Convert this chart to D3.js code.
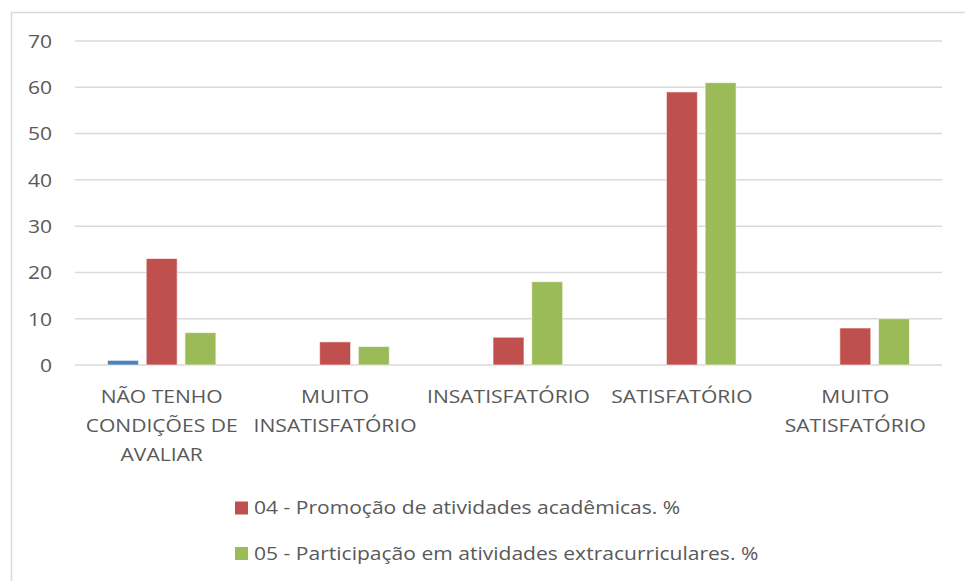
<!DOCTYPE html>
<html>
<head>
<meta charset="utf-8">
<script src="https://cdn.jsdelivr.net/npm/d3@7"></script>
<style>
  html, body { margin: 0; padding: 0; background: #fff; }
  svg { display: block; }
  text { font-family: "Open Sans", sans-serif; fill: #595959; }
</style>
</head>
<body>
<svg id="chart" width="965" height="581"></svg>
<script>
const categories = [
  "NÃO TENHO\nCONDIÇÕES DE\nAVALIAR",
  "MUITO\nINSATISFATÓRIO",
  "INSATISFATÓRIO",
  "SATISFATÓRIO",
  "MUITO\nSATISFATÓRIO"
];
const seriesNames = [
  "",
  "04 - Promoção de atividades acadêmicas. %",
  "05 - Participação em atividades extracurriculares. %"
];
const seriesBlue = [1, 0, 0, 0, 0];
const seriesRed = [23, 5, 6, 59, 8];
const seriesGreen = [7, 4, 18, 61, 10];
const seriesColors = ["#4F81BD", "#C0504D", "#9BBB59"];
const yTicks = [0, 10, 20, 30, 40, 50, 60, 70];
const legendShown = [1, 2];

const allSeries = [seriesBlue, seriesRed, seriesGreen];
const svg = d3.select("#chart");
const SX = 1.17; // horizontal text stretch

svg.append("rect")
  .attr("x", 11.5).attr("y", 12.5)
  .attr("width", 970).attr("height", 590)
  .attr("fill", "none").attr("stroke", "#D9D9D9").attr("stroke-width", 1.5);

const plot = { left: 75, right: 942, top: 41, bottom: 365 };

const y = d3.scaleLinear().domain([0, 70]).range([plot.bottom, plot.top]);
const x0 = d3.scaleBand().domain(d3.range(categories.length))
  .range([plot.left, plot.right]).paddingInner(0).paddingOuter(0);

const bw = x0.bandwidth() / 5.6;
const step = bw * 1.25;

svg.append("g").selectAll("line").data(yTicks).join("line")
  .attr("x1", plot.left).attr("x2", plot.right)
  .attr("y1", d => y(d)).attr("y2", d => y(d))
  .attr("stroke", "#D9D9D9").attr("stroke-width", 1.5);

const yAxis = d3.axisLeft(y).tickValues(yTicks).tickSize(0).tickPadding(0);
const gy = svg.append("g").attr("transform", `translate(${plot.left - 23},0)`).call(yAxis);
gy.select(".domain").remove();
gy.selectAll(".tick text")
  .style("font-size", "18px").style("font-family", "'Open Sans', sans-serif")
  .attr("fill", "#595959").attr("dy", "0.35em")
  .attr("transform", `scale(${SX},1)`);

allSeries.forEach((vals, si) => {
  svg.append("g").selectAll("rect").data(vals).join("rect")
    .attr("x", (d, i) => x0(i) + x0.bandwidth() / 2 - (3 * bw + 2 * (step - bw)) / 2 + si * step)
    .attr("width", bw)
    .attr("y", d => y(d))
    .attr("height", d => y(0) - y(d))
    .attr("fill", seriesColors[si])
    .attr("stroke", d => d > 0 ? "#fff" : "none")
    .attr("stroke-opacity", 0.6)
    .attr("stroke-width", 1);
});

const gx = svg.append("g");
categories.forEach((c, i) => {
  const t = gx.append("text")
    .attr("transform", `translate(${x0(i) + x0.bandwidth() / 2},403) scale(${SX},1)`)
    .attr("text-anchor", "middle")
    .style("font-size", "18px");
  c.split("\n").forEach((line, li) => {
    t.append("tspan")
      .attr("x", 0)
      .attr("dy", li === 0 ? 0 : 29)
      .text(line);
  });
});

const lg = svg.append("g");
legendShown.forEach((si, k) => {
  const yy = 508 + k * 45.5;
  lg.append("rect")
    .attr("x", 235).attr("y", yy - 6.5)
    .attr("width", 13).attr("height", 13)
    .attr("fill", seriesColors[si]);
  lg.append("text")
    .attr("transform", `translate(254,${yy}) scale(${SX},1)`)
    .attr("dy", "0.35em")
    .style("font-size", "18px")
    .text(seriesNames[si]);
});
</script>
</body>
</html>
